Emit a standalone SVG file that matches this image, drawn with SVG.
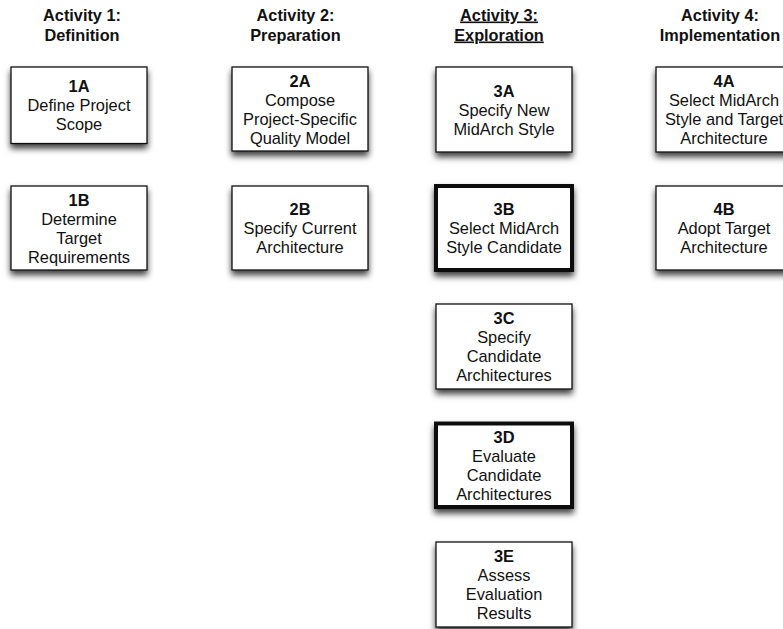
<svg xmlns="http://www.w3.org/2000/svg" width="783" height="629" viewBox="0 0 783 629">
  <style>
    .hdr { font-family: "Liberation Sans", Arial, Helvetica, sans-serif; font-size: 16.3px; font-weight: bold; fill: #111; text-anchor: middle; }
    .box { fill: #fff; stroke: #111; stroke-width: 1.3; filter: url(#shadow); }
    .box.key { stroke-width: 4; }
    .lbl { font-family: "Liberation Sans", Arial, Helvetica, sans-serif; font-size: 16.4px; fill: #111; text-anchor: middle; }
    .id { font-weight: bold; }
  </style>
  <defs>
    <filter id="shadow" x="-15%" y="-15%" width="130%" height="145%">
      <feDropShadow dx="0" dy="4.5" stdDeviation="3" flood-color="#000" flood-opacity="0.75"/>
    </filter>
  </defs>
  <rect width="783" height="629" fill="#fff"/>

  <!-- activity headers -->
  <g id="headers">
    <text class="hdr" x="82" y="20.5">Activity 1:</text>
    <text class="hdr" x="82" y="40.5">Definition</text>
    <text class="hdr" x="295.5" y="20.5">Activity 2:</text>
    <text class="hdr" x="295.5" y="40.5">Preparation</text>
    <text class="hdr" x="499" y="20.5" text-decoration="underline">Activity 3:</text>
    <text class="hdr" x="499" y="40.5" text-decoration="underline">Exploration</text>
    <text class="hdr" x="720" y="20.5">Activity 4:</text>
    <text class="hdr" x="720" y="40.5">Implementation</text>
  </g>

  <!-- Activity 1 -->
  <g id="n1A">
    <rect class="box" x="11" y="67" width="136" height="76.5"/>
    <text class="lbl"><tspan class="id" x="79" y="92.3">1A</tspan><tspan x="79" y="111.3">Define Project</tspan><tspan x="79" y="130.3">Scope</tspan></text>
  </g>
  <g id="n1B">
    <rect class="box" x="11" y="186" width="136" height="84"/>
    <text class="lbl"><tspan class="id" x="79" y="205.5">1B</tspan><tspan x="79" y="224.5">Determine</tspan><tspan x="79" y="243.5">Target</tspan><tspan x="79" y="262.5">Requirements</tspan></text>
  </g>

  <!-- Activity 2 -->
  <g id="n2A">
    <rect class="box" x="232" y="67" width="136" height="84"/>
    <text class="lbl"><tspan class="id" x="300" y="86.5">2A</tspan><tspan x="300" y="105.5">Compose</tspan><tspan x="300" y="124.5">Project-Specific</tspan><tspan x="300" y="143.5">Quality Model</tspan></text>
  </g>
  <g id="n2B">
    <rect class="box" x="232" y="186" width="136" height="84"/>
    <text class="lbl"><tspan class="id" x="300" y="215">2B</tspan><tspan x="300" y="234">Specify Current</tspan><tspan x="300" y="253">Architecture</tspan></text>
  </g>

  <!-- Activity 3 -->
  <g id="n3A">
    <rect class="box" x="436" y="67" width="136" height="85"/>
    <text class="lbl"><tspan class="id" x="504" y="96.5">3A</tspan><tspan x="504" y="115.5">Specify New</tspan><tspan x="504" y="134.5">MidArch Style</tspan></text>
  </g>
  <g id="n3B">
    <rect class="box key" x="436" y="186" width="136" height="84"/>
    <text class="lbl"><tspan class="id" x="504" y="215">3B</tspan><tspan x="504" y="234">Select MidArch</tspan><tspan x="504" y="253">Style Candidate</tspan></text>
  </g>
  <g id="n3C">
    <rect class="box" x="436" y="304" width="136" height="85"/>
    <text class="lbl"><tspan class="id" x="504" y="324">3C</tspan><tspan x="504" y="343">Specify</tspan><tspan x="504" y="362">Candidate</tspan><tspan x="504" y="381">Architectures</tspan></text>
  </g>
  <g id="n3D">
    <rect class="box key" x="436" y="423.5" width="136" height="83.5"/>
    <text class="lbl"><tspan class="id" x="504" y="442.5">3D</tspan><tspan x="504" y="461.5">Evaluate</tspan><tspan x="504" y="480.5">Candidate</tspan><tspan x="504" y="499.5">Architectures</tspan></text>
  </g>
  <g id="n3E">
    <rect class="box" x="436" y="542" width="136" height="85"/>
    <text class="lbl"><tspan class="id" x="504" y="562">3E</tspan><tspan x="504" y="581">Assess</tspan><tspan x="504" y="600">Evaluation</tspan><tspan x="504" y="619">Results</tspan></text>
  </g>

  <!-- Activity 4 -->
  <g id="n4A">
    <rect class="box" x="656" y="67" width="136" height="85"/>
    <text class="lbl"><tspan class="id" x="724" y="87">4A</tspan><tspan x="724" y="106">Select MidArch</tspan><tspan x="724" y="125">Style and Target</tspan><tspan x="724" y="144">Architecture</tspan></text>
  </g>
  <g id="n4B">
    <rect class="box" x="656" y="186" width="136" height="84"/>
    <text class="lbl"><tspan class="id" x="724" y="215">4B</tspan><tspan x="724" y="234">Adopt Target</tspan><tspan x="724" y="253">Architecture</tspan></text>
  </g>

  <!-- no connectors are drawn between the steps -->
  <g id="connectors"/>
</svg>
